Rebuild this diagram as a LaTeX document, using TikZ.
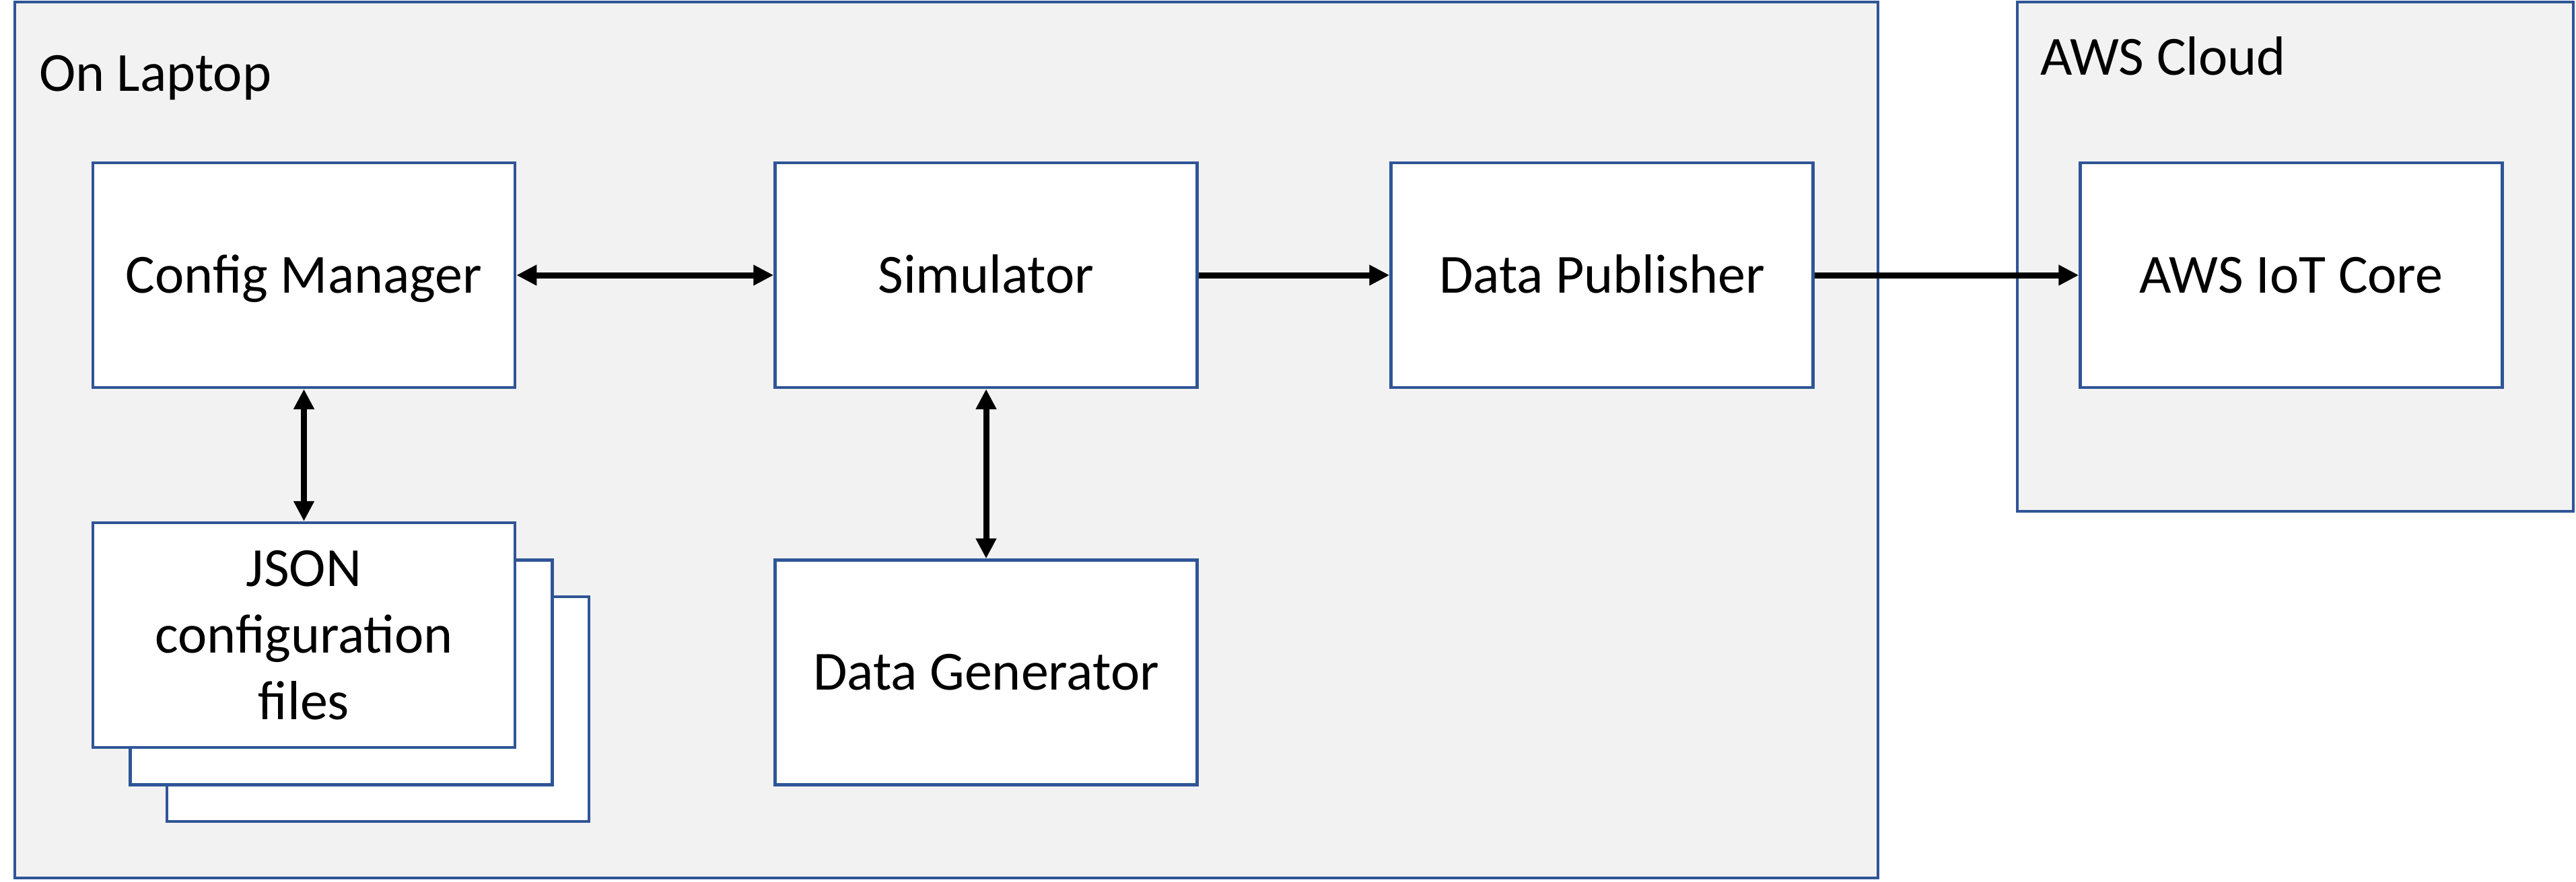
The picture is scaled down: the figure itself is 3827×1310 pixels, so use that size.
\documentclass[tikz,border=0pt]{standalone}
\usepackage{fontspec}
\setmainfont{Carlito}
\usetikzlibrary{arrows.meta}
\definecolor{boxblue}{HTML}{2F5597}
\definecolor{panelgray}{HTML}{F2F2F2}
\begin{document}
\begin{tikzpicture}[x=0.2pt,y=-0.2pt,
  panel/.style={draw=boxblue,fill=panelgray,line width=0.85pt,inner sep=0pt},
  block/.style={draw=boxblue,fill=white,line width=0.9pt,minimum width=125.4pt,
    minimum height=66.8pt,inner sep=0pt,font=\fontsize{16.4}{19.8}\selectfont,
    text height=10.5pt,text depth=0pt,align=center},
  multiline/.style={text height={},text depth={}},
  paneltitle/.style={anchor=base west,inner sep=0pt,font=\fontsize{16.4}{19.8}\selectfont},
  arr/.style={-{Triangle[length=6pt,width=5.8pt]},line width=1.8pt},
  biarr/.style={{Triangle[length=6pt,width=5.8pt]}-{Triangle[length=6pt,width=5.8pt]},line width=1.8pt}]
\useasboundingbox (0,0) rectangle (3827,1310);
% containers
\node[panel,minimum width=553.6pt,minimum height=260.4pt] (laptop) at (1406,654) {};
\node[panel,minimum width=165.2pt,minimum height=151.4pt] (cloud) at (3410,381.5) {};
\node[paneltitle] (laptoplbl) at (57,135.6) {On Laptop};
\node[paneltitle] (cloudlbl) at (3030,111) {AWS Cloud};
% JSON stack
\node[block] (json3) at (561.5,1054) {};
\node[block] (json2) at (507,999.5) {};
\node[block,multiline] (json) at (451.5,944) {JSON\\configuration\\files};
% blocks
\node[block] (cfg) at (451.5,409) {Config Manager};
\node[block] (sim) at (1465,409) {Simulator};
\node[block] (pub) at (2380,409) {Data Publisher};
\node[block] (iot) at (3404,409) {AWS IoT Core};
\node[block] (gen) at (1465,999.5) {Data Generator};
% connectors
\draw[biarr] (cfg.east) -- (sim.west);
\draw[biarr] (cfg.south) -- (json.north);
\draw[biarr] (sim.south) -- (gen.north);
\draw[arr] (sim.east) -- (pub.west);
\draw[arr] (pub.east) -- (iot.west);
\end{tikzpicture}
\end{document}
